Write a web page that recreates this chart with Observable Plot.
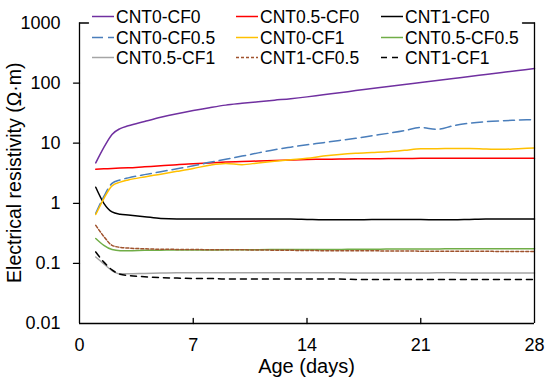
<!DOCTYPE html>
<html>
<head>
<meta charset="utf-8">
<script src="https://cdn.jsdelivr.net/npm/d3@7"></script>
<script src="https://cdn.jsdelivr.net/npm/@observablehq/plot@0.6"></script>
<style>
  html, body { margin: 0; padding: 0; background: #fff; }
  #chart { width: 550px; height: 387px; }
</style>
</head>
<body>
<div id="chart"></div>
<script>
// ---- Data ----
const days = [1, 1.5, 2, 2.5, 3, 4, 5, 6, 7, 8, 9, 10, 11, 12, 13, 14, 15, 16, 17, 18, 19, 20, 21, 22, 23, 24, 25, 26, 27, 28];

const cnt0_cf0   = [4.7, 8.5, 14, 17.5, 19.5, 23, 27, 31, 35, 39, 43, 46, 49, 52, 55, 59, 64, 69, 75, 81, 88, 95, 102, 110, 119, 129, 139, 150, 162, 175];
const cnt05_cf0  = [3.7, 3.75, 3.8, 3.85, 3.9, 4.05, 4.2, 4.4, 4.55, 4.7, 4.85, 4.95, 5.05, 5.15, 5.25, 5.35, 5.4, 5.45, 5.5, 5.5, 5.55, 5.55, 5.6, 5.6, 5.6, 5.6, 5.6, 5.6, 5.6, 5.6];
const cnt1_cf0   = [1.85, 1.0, 0.72, 0.66, 0.64, 0.6, 0.56, 0.55, 0.55, 0.55, 0.55, 0.55, 0.55, 0.55, 0.55, 0.54, 0.53, 0.53, 0.53, 0.54, 0.54, 0.54, 0.54, 0.53, 0.53, 0.54, 0.55, 0.55, 0.55, 0.55];
const cnt0_cf05  = [0.68, 1.3, 2.15, 2.45, 2.65, 3.0, 3.35, 3.75, 4.2, 4.8, 5.4, 6.1, 6.9, 7.8, 8.6, 9.4, 10.2, 11.1, 12.1, 13.3, 14.6, 16.2, 18.3, 17.0, 19.5, 21.5, 22.8, 23.6, 24.2, 24.8];
const cnt0_cf1   = [0.65, 1.2, 1.95, 2.25, 2.45, 2.75, 3.05, 3.4, 3.8, 4.3, 4.6, 4.4, 4.7, 5.0, 5.3, 5.6, 6.1, 6.5, 6.8, 7.0, 7.2, 7.6, 8.1, 8.1, 8.2, 8.2, 8.0, 7.9, 8.1, 8.3];
const cnt05_cf05 = [0.26, 0.2, 0.17, 0.163, 0.163, 0.165, 0.166, 0.167, 0.167, 0.167, 0.168, 0.168, 0.169, 0.17, 0.17, 0.17, 0.171, 0.171, 0.172, 0.172, 0.173, 0.173, 0.174, 0.174, 0.175, 0.175, 0.175, 0.175, 0.176, 0.176];
const cnt05_cf1  = [0.128, 0.098, 0.076, 0.067, 0.067, 0.068, 0.069, 0.07, 0.07, 0.07, 0.07, 0.07, 0.07, 0.07, 0.07, 0.07, 0.07, 0.07, 0.069, 0.069, 0.069, 0.069, 0.069, 0.07, 0.07, 0.069, 0.069, 0.069, 0.069, 0.069];
const cnt1_cf05  = [0.43, 0.28, 0.2, 0.185, 0.18, 0.175, 0.172, 0.171, 0.17, 0.169, 0.168, 0.168, 0.167, 0.166, 0.165, 0.164, 0.163, 0.163, 0.162, 0.162, 0.161, 0.161, 0.16, 0.16, 0.16, 0.159, 0.159, 0.158, 0.158, 0.158];
const cnt1_cf1   = [0.155, 0.105, 0.078, 0.066, 0.063, 0.06, 0.058, 0.057, 0.056, 0.056, 0.055, 0.055, 0.055, 0.055, 0.055, 0.055, 0.055, 0.055, 0.054, 0.054, 0.054, 0.054, 0.054, 0.054, 0.054, 0.054, 0.054, 0.054, 0.054, 0.054];

// legend order (row-major, 3 columns)
const seriesNames  = ["CNT0-CF0", "CNT0.5-CF0", "CNT1-CF0", "CNT0-CF0.5", "CNT0-CF1", "CNT0.5-CF0.5", "CNT0.5-CF1", "CNT1-CF0.5", "CNT1-CF1"];
const seriesValues = [cnt0_cf0, cnt05_cf0, cnt1_cf0, cnt0_cf05, cnt0_cf1, cnt05_cf05, cnt05_cf1, cnt1_cf05, cnt1_cf1];

const xTicks = [0, 7, 14, 21, 28];
const yTicks = [0.01, 0.1, 1, 10, 100, 1000];
const yTickLabels = ["0.01", "0.1", "1", "10", "100", "1000"];
const xTitle = "Age (days)";
const yTitle = "Electrical resistivity (Ω·m)";

// ---- Styles ----
const seriesColors = ["#7030A0", "#FF0000", "#000000", "#4A7EBB", "#FFC000", "#70AD47", "#A5A5A5", "#A0522D", "#000000"];
const seriesDash   = [null, null, null, "11,5", null, null, null, "3,2", "6,5"];
const lineWidth = 1.5;

const W = 550, H = 387;
const mL = 79, mR = 16, mT = 22.5, mB = 64;
const font = "'Liberation Sans', Arial, sans-serif";
const xDomain = [0, 28];
const yDomain = [0.01, 1000];

const rows = [];
seriesNames.forEach((name, s) => {
  days.forEach((d, i) => rows.push({series: name, day: d, value: seriesValues[s][i]}));
});

const tickShape = {draw(ctx, l) { ctx.moveTo(0, 0); ctx.lineTo(0, -l); }};

const lineMarks = seriesNames.map((name, s) =>
  Plot.line(rows.filter(r => r.series === name), {
    x: "day", y: "value",
    stroke: seriesColors[s], strokeWidth: lineWidth,
    strokeDasharray: seriesDash[s] || undefined,
    curve: "monotone-x"
  })
);

const chart = Plot.plot({
  width: W, height: H,
  marginLeft: mL, marginRight: mR, marginTop: mT, marginBottom: mB,
  style: {fontFamily: font, fontSize: "18px", background: "#fff", color: "#000"},
  x: {domain: xDomain},
  y: {type: "log", domain: yDomain},
  marks: [
    ...lineMarks,
    // axis lines / frame
    Plot.ruleX([xDomain[0]], {stroke: "#000", strokeWidth: 1.3}),
    Plot.ruleX([xDomain[1]], {stroke: "#000", strokeWidth: 1.3}),
    Plot.ruleY([yDomain[0]], {stroke: "#000", strokeWidth: 1.3}),
    // y ticks (outward), top ticks (inward)
    Plot.vector(yTicks.slice(1, -1), {x: xDomain[0], y: d => d, length: 6, rotate: -90, anchor: "start", shape: tickShape, stroke: "#000", strokeWidth: 1.3}),
    Plot.vector([yDomain[1]], {x: xDomain[0], y: d => d, length: 9, rotate: 90, anchor: "start", shape: tickShape, stroke: "#000", strokeWidth: 1.3}),
    Plot.vector([yDomain[1]], {x: xDomain[1], y: d => d, length: 12, rotate: -90, anchor: "start", shape: tickShape, stroke: "#000", strokeWidth: 1.3}),
    // x ticks (inward)
    Plot.vector(xTicks.slice(1, -1), {x: d => d, y: yDomain[0], length: 5, rotate: 0, anchor: "start", shape: tickShape, stroke: "#000", strokeWidth: 1.3}),
    Plot.axisY({ticks: yTicks, tickSize: 0, tickPadding: 19, tickFormat: (d) => yTickLabels[yTicks.indexOf(d)], label: null, fontSize: 18}),
    Plot.axisX({ticks: xTicks, tickSize: 0, tickPadding: 15, tickFormat: d => String(d), label: null, fontSize: 18})
  ]
});

document.getElementById("chart").appendChild(chart);

// ---- Titles and legend added into the SVG ----
const svg = d3.select(chart);
svg.append("text")
  .attr("x", mL + (W - mL - mR) / 2).attr("y", 373)
  .attr("text-anchor", "middle")
  .style("font-family", font).style("font-size", "20px").attr("fill", "#000")
  .text(xTitle);
svg.append("text")
  .attr("transform", `translate(21,${mT + (H - mT - mB) / 2}) rotate(-90)`)
  .attr("text-anchor", "middle")
  .style("font-family", font).style("font-size", "19.5px").attr("fill", "#000")
  .text(yTitle);

const legCols = [92, 236, 381];
const legRows = [16.5, 37.5, 57.5];
const legLen = 22;
const leg = svg.append("g").attr("text-anchor", "start");
seriesNames.forEach((name, s) => {
  const cx = legCols[s % 3], cy = legRows[Math.floor(s / 3)];
  leg.append("line")
    .attr("x1", cx).attr("x2", cx + legLen).attr("y1", cy).attr("y2", cy)
    .attr("stroke", seriesColors[s]).attr("stroke-width", lineWidth)
    .attr("stroke-dasharray", seriesDash[s] || null);
  leg.append("text")
    .attr("x", cx + legLen + 2).attr("y", cy).attr("dy", "0.36em")
    .attr("text-anchor", "start")
    .style("font-family", font).style("font-size", "17.5px").attr("fill", "#000")
    .text(name);
});
</script>
</body>
</html>
